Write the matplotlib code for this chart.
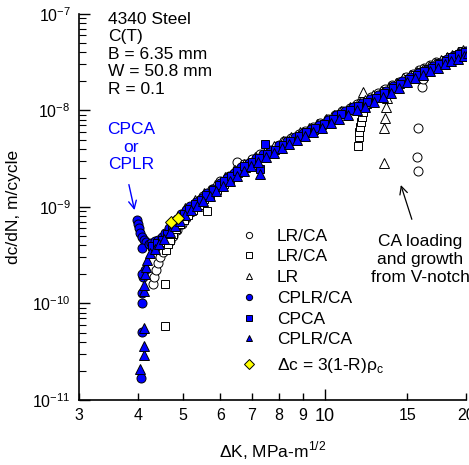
import matplotlib
matplotlib.use("Agg")
import matplotlib.pyplot as plt
from matplotlib.lines import Line2D
from matplotlib.ticker import FixedLocator, LogLocator, NullFormatter

plt.rcParams['font.family'] = ['Liberation Sans', 'DejaVu Sans']
plt.rcParams['axes.unicode_minus'] = False
plt.rcParams['mathtext.fontset'] = 'custom'
plt.rcParams['mathtext.rm'] = 'Liberation Sans'

# LR/CA (open circles)
lrca_c_dk = [4.31, 4.34, 4.37, 4.41, 4.46, 4.52, 4.60, 4.68, 4.76, 4.86, 4.96, 5.08, 5.20, 5.35,
             5.50, 5.75, 6.00, 6.25, 6.50, 6.50, 6.75, 7.00, 7.30, 7.60, 7.90, 8.20, 8.50, 8.80,
             9.10, 9.45, 9.80, 10.15, 10.50, 10.90, 11.30, 11.70, 12.10, 12.55, 13.00, 13.45,
             13.90, 14.40, 14.90, 15.40, 15.90, 16.30, 16.80, 17.30, 16.10, 16.20, 15.80, 15.70, 15.80]
lrca_c_rate = [1.6e-10, 1.9e-10, 2.2e-10, 2.6e-10, 3.0e-10, 3.4e-10, 3.9e-10, 4.4e-10, 5.0e-10,
               5.8e-10, 6.6e-10, 7.7e-10, 8.8e-10, 1.02e-9, 1.3e-9, 1.55e-9, 1.85e-9, 2.1e-9,
               2.45e-9, 2.9e-9, 2.8e-9, 3.15e-9, 3.5e-9, 3.85e-9, 4.3e-9, 4.8e-9, 5.25e-9, 5.75e-9,
               6.2e-9, 6.8e-9, 7.5e-9, 8.2e-9, 9.0e-9, 9.9e-9, 1.07e-8, 1.17e-8, 1.26e-8, 1.38e-8,
               1.52e-8, 1.66e-8, 1.82e-8, 1.99e-8, 2.2e-8, 2.4e-8, 2.6e-8, 2.75e-8, 2.95e-8, 3.15e-8,
               1.75e-8, 2.1e-8, 6.6e-9, 3.3e-9, 2.35e-9]

# LR/CA (open squares)
lrca_s_dk = [4.58, 4.58, 4.60, 4.63, 4.68, 4.75, 4.83, 4.92, 5.02, 5.12, 5.25, 5.40, 5.55, 5.63,
             5.70, 5.90, 6.10, 6.30, 6.55, 6.80, 7.05, 7.35, 7.65, 7.95, 8.25, 8.55, 8.85, 9.15,
             9.50, 9.85, 10.20, 10.55, 10.95, 11.35, 11.75, 11.77, 11.82, 11.86, 11.90, 11.95,
             12.00, 12.10, 12.20, 12.30, 12.60, 13.05, 13.50, 14.00, 14.50, 15.00, 15.50, 16.00,
             16.50, 17.00, 17.50, 18.00, 18.50, 19.00, 19.60]
lrca_s_rate = [5.9e-11, 1.6e-10, 3.6e-10, 4.1e-10, 4.6e-10, 5.2e-10, 5.9e-10, 6.6e-10, 7.4e-10,
               8.2e-10, 9.2e-10, 1.05e-9, 1.2e-9, 9.1e-10, 1.33e-9, 1.5e-9, 1.75e-9, 1.95e-9,
               2.25e-9, 2.55e-9, 2.85e-9, 3.2e-9, 3.55e-9, 3.95e-9, 4.4e-9, 4.85e-9, 5.35e-9,
               5.8e-9, 6.35e-9, 7.0e-9, 7.7e-9, 8.4e-9, 9.2e-9, 1.0e-8, 1.09e-8, 4.3e-9, 5.3e-9,
               6.0e-9, 6.7e-9, 7.6e-9, 8.6e-9, 9.6e-9, 1.09e-8, 1.18e-8, 1.3e-8, 1.43e-8, 1.58e-8,
               1.75e-8, 1.93e-8, 2.12e-8, 2.32e-8, 2.5e-8, 2.7e-8, 2.9e-8, 3.1e-8, 3.35e-8, 3.6e-8,
               3.8e-8, 4.1e-8]

# LR (open triangles)
lr_t_dk = [5.05, 5.30, 5.55, 5.85, 6.15, 6.45, 6.75, 7.10, 7.45, 7.80, 8.15, 8.50, 8.85, 9.25,
           9.65, 10.05, 10.45, 10.85, 11.30, 11.75, 12.10, 12.20, 12.70, 13.20, 13.70, 14.20,
           14.70, 15.20, 15.70, 16.20, 16.70, 17.20, 17.70, 18.20, 18.70, 19.20, 19.70,
           13.37, 13.40, 13.46, 13.50, 13.57]
lr_t_rate = [9.7e-10, 1.18e-9, 1.4e-9, 1.68e-9, 2.03e-9, 2.4e-9, 2.82e-9, 3.28e-9, 3.73e-9,
             4.25e-9, 4.8e-9, 5.35e-9, 5.95e-9, 6.55e-9, 7.3e-9, 8.1e-9, 9.0e-9, 9.9e-9, 1.09e-8,
             1.19e-8, 1.55e-8, 1.29e-8, 1.44e-8, 1.59e-8, 1.75e-8, 1.94e-8, 2.15e-8, 2.36e-8,
             2.53e-8, 2.71e-8, 2.9e-8, 3.1e-8, 3.33e-8, 3.57e-8, 3.8e-8, 4.0e-8, 4.25e-8,
             2.86e-9, 6.6e-9, 8.4e-9, 1.09e-8, 1.35e-8]

# CPLR/CA (blue circles)
cplr_c_dk = [3.98, 4.00, 4.02, 4.05, 4.09, 4.13, 4.17, 4.09, 4.14, 4.10, 4.08, 4.09, 4.08, 4.08,
             4.07, 4.22, 4.28, 4.35, 4.42, 4.50, 4.58, 4.66, 4.75, 4.85, 4.95, 5.06, 5.18, 5.32,
             5.47, 5.63, 5.80, 6.00, 6.20, 6.42, 6.65, 6.90, 7.15, 7.40, 7.70, 8.00, 8.30, 8.65,
             9.00, 9.35, 9.75, 10.15, 10.60, 11.05, 11.50, 12.00, 12.50, 13.00, 13.50, 14.00,
             14.60, 15.20, 15.80, 16.40, 17.00, 17.60, 18.20, 18.80, 19.40, 20.00]
cplr_c_rate = [7.3e-10, 6.6e-10, 6.0e-10, 5.4e-10, 4.9e-10, 4.55e-10, 4.3e-10, 3.75e-10, 2.2e-10,
               1.9e-10, 2.0e-10, 1.3e-10, 1.0e-10, 5.1e-11, 1.7e-11, 4.1e-10, 4.2e-10, 4.4e-10,
               4.6e-10, 4.9e-10, 5.4e-10, 6.0e-10, 6.7e-10, 7.5e-10, 8.4e-10, 9.3e-10, 1.02e-9,
               1.13e-9, 1.25e-9, 1.4e-9, 1.55e-9, 1.78e-9, 2.0e-9, 2.27e-9, 2.57e-9, 2.88e-9,
               3.2e-9, 3.5e-9, 3.92e-9, 4.37e-9, 4.79e-9, 5.33e-9, 5.9e-9, 6.43e-9, 7.1e-9, 7.9e-9,
               8.9e-9, 9.87e-9, 1.08e-8, 1.19e-8, 1.31e-8, 1.45e-8, 1.6e-8, 1.78e-8, 2.0e-8,
               2.25e-8, 2.44e-8, 2.65e-8, 2.88e-8, 3.13e-8, 3.4e-8, 3.65e-8, 3.93e-8, 4.17e-8]

# CPCA (blue squares)
cpca_s_dk = [4.30, 4.40, 4.50, 4.62, 4.74, 4.88, 5.02, 5.15, 5.30, 5.45, 5.60, 5.78, 5.95, 6.12,
             6.32, 6.52, 6.75, 7.00, 7.25, 7.30, 7.45, 7.55, 7.85, 8.15, 8.45, 8.80, 9.15, 9.55,
             9.95, 10.40, 10.85, 11.30, 11.80, 12.30, 12.85, 13.40, 13.95, 14.50, 15.10, 15.70,
             16.30, 16.90, 17.50, 18.10, 18.70, 19.30, 19.90]
cpca_s_rate = [3.9e-10, 4.2e-10, 4.6e-10, 5.3e-10, 6.2e-10, 7.2e-10, 8.4e-10, 9.5e-10, 1.07e-9,
               1.19e-9, 1.32e-9, 1.5e-9, 1.7e-9, 1.88e-9, 2.1e-9, 2.35e-9, 2.65e-9, 2.95e-9,
               3.2e-9, 2.5e-9, 4.5e-9, 3.5e-9, 3.9e-9, 4.4e-9, 4.85e-9, 5.4e-9, 6.0e-9, 6.6e-9,
               7.3e-9, 8.2e-9, 9.1e-9, 1.0e-8, 1.11e-8, 1.22e-8, 1.36e-8, 1.52e-8, 1.7e-8, 1.9e-8,
               2.12e-8, 2.33e-8, 2.55e-8, 2.78e-8, 3.02e-8, 3.28e-8, 3.55e-8, 3.82e-8, 4.08e-8]

# CPLR/CA (blue triangles)
cplr_t_dk = [4.04, 4.12, 4.12, 4.13, 4.12, 4.12, 4.15, 4.17, 4.19, 4.25, 4.35, 4.45, 4.56, 4.68,
             4.80, 4.93, 5.05, 5.20, 5.36, 5.52, 5.70, 5.88, 6.08, 6.28, 6.50, 6.72, 6.96, 7.20,
             7.27, 7.50, 7.80, 8.10, 8.40, 8.75, 9.10, 9.45, 9.85, 10.30, 10.75, 11.20, 11.70,
             12.20, 12.75, 13.30, 13.85, 14.40, 15.00, 15.60, 16.20, 16.80, 17.40, 18.00, 18.60,
             19.20, 19.80, 20.20]
cplr_t_rate = [2.1e-11, 2.9e-11, 3.6e-11, 5.6e-11, 1.35e-10, 1.55e-10, 2.0e-10, 2.4e-10, 2.8e-10,
               3.3e-10, 3.7e-10, 4.1e-10, 4.7e-10, 5.5e-10, 6.3e-10, 7.2e-10, 8.2e-10, 9.2e-10,
               1.03e-9, 1.15e-9, 1.3e-9, 1.47e-9, 1.66e-9, 1.86e-9, 2.1e-9, 2.38e-9, 2.65e-9,
               2.92e-9, 2.2e-9, 3.27e-9, 3.65e-9, 4.05e-9, 4.45e-9, 4.95e-9, 5.45e-9, 5.95e-9,
               6.6e-9, 7.35e-9, 8.15e-9, 9.0e-9, 1.0e-8, 1.1e-8, 1.23e-8, 1.37e-8, 1.53e-8, 1.72e-8,
               1.97e-8, 2.15e-8, 2.33e-8, 2.55e-8, 2.78e-8, 3.0e-8, 3.25e-8, 3.45e-8, 3.7e-8, 3.95e-8]

# delta c = 3(1-R) rho_c points
dc_dk = [4.72, 4.87]
dc_rate = [7.0e-10, 7.7e-10]

x_ticks = [3, 4, 5, 6, 7, 8, 9, 10, 15, 20]
x_labels = ["3", "4", "5", "6", "7", "8", "9", "10", "15", "20"]

blue = "#0000ff"
fs = 12.5

fig = plt.figure(figsize=(4.69, 4.65), dpi=100)
ax = fig.add_axes([79 / 469, 65 / 465, 387 / 469, 386 / 465])

mk = dict(ls="none", mec="black", mew=0.7)
ax.plot(lrca_c_dk, lrca_c_rate, marker="o", ms=6.5, mfc="white", **mk)
ax.plot(lrca_s_dk, lrca_s_rate, marker="s", ms=5.6, mfc="white", **mk)
ax.plot(lr_t_dk, lr_t_rate, marker="^", ms=6.5, mfc="white", **mk)
ax.plot(cplr_c_dk, cplr_c_rate, marker="o", ms=6.5, mfc=blue, **mk)
ax.plot(cpca_s_dk, cpca_s_rate, marker="s", ms=5.6, mfc=blue, **mk)
ax.plot(cplr_t_dk, cplr_t_rate, marker="^", ms=6.5, mfc=blue, **mk)
ax.plot(dc_dk, dc_rate, marker="D", ms=5.8, mfc="#ffff00", **mk)

ax.set_xscale("log")
ax.set_yscale("log")
ax.set_xlim(3, 20)
ax.set_ylim(1e-11, 1e-7)

# axes: only left and bottom, ticks inside
ax.spines["top"].set_visible(False)
ax.spines["right"].set_visible(False)
ax.spines["left"].set_linewidth(1.2)
ax.spines["bottom"].set_linewidth(1.2)

ax.xaxis.set_major_locator(FixedLocator(x_ticks))
ax.xaxis.set_minor_locator(FixedLocator([]))
ax.set_xticklabels(x_labels, fontsize=11.5)
ax.xaxis.set_minor_formatter(NullFormatter())
ax.tick_params(axis="x", which="major", direction="in", length=5, width=1, pad=6)
ten = ax.xaxis.get_major_ticks()[7]
ten.tick1line.set_markersize(8)
ten.label1.set_fontsize(13)

ax.yaxis.set_major_locator(LogLocator(base=10, numticks=10))
ax.yaxis.set_minor_locator(LogLocator(base=10, subs=range(2, 10), numticks=10))
ax.yaxis.set_minor_formatter(NullFormatter())
ax.tick_params(axis="y", which="major", direction="in", length=8, width=1, pad=6, labelsize=11.5)
ax.tick_params(axis="y", which="minor", direction="in", length=5, width=0.8)

ax.set_xlabel("ΔK, MPa-m$^{\\mathregular{1/2}}$", fontsize=fs, labelpad=10)
ax.set_ylabel("dc/dN, m/cycle", fontsize=fs, labelpad=8)

# specimen info
ax.text(0.075, 1.005, "4340 Steel\nC(T)\nB = 6.35 mm\nW = 50.8 mm\nR = 0.1",
        transform=ax.transAxes, ha="left", va="top", fontsize=fs, linespacing=1.2)

# annotations
ax.text(0.134, 0.72, "CPCA\nor\nCPLR", transform=ax.transAxes, ha="center", va="top",
        fontsize=fs, color=blue, linespacing=1.22)
ax.annotate("", xy=(3.95, 8.7e-10), xytext=(3.82, 1.82e-9),
            arrowprops=dict(arrowstyle="->", color=blue, lw=1, mutation_scale=14))
ax.text(0.881, 0.43, "CA loading\nand growth\nfrom V-notch", transform=ax.transAxes,
        ha="center", va="top", fontsize=fs, linespacing=1.25)
ax.annotate("", xy=(14.47, 1.8e-9), xytext=(15.4, 7.0e-10),
            arrowprops=dict(arrowstyle="->", color="black", lw=0.9, mutation_scale=14))

# legend (last entry kept apart, it sits a bit lower)
lg = dict(ls="none", mec="black", mew=0.7)
handles = [
    Line2D([], [], marker="o", ms=4.5, mfc="white", **lg),
    Line2D([], [], marker="s", ms=4, mfc="white", **lg),
    Line2D([], [], marker="^", ms=4.5, mfc="white", **lg),
    Line2D([], [], marker="o", ms=4.5, mfc=blue, **lg),
    Line2D([], [], marker="s", ms=4, mfc=blue, **lg),
    Line2D([], [], marker="^", ms=4.5, mfc=blue, **lg),
]
labels = ["LR/CA", "LR/CA", "LR", "CPLR/CA", "CPCA", "CPLR/CA"]
leg_opts = dict(loc="upper left", frameon=False, fontsize=fs, handlelength=1.0,
                handletextpad=1.13, labelspacing=0.32, borderpad=0, borderaxespad=0)
leg1 = ax.legend(handles, labels, bbox_to_anchor=(0.416, 0.444), **leg_opts)
ax.add_artist(leg1)
ax.legend([Line2D([], [], marker="D", ms=5, mfc="#ffff00", **lg)],
          ["Δc = 3(1-R)ρ$_\\mathregular{c}$"], bbox_to_anchor=(0.416, 0.115), **leg_opts)

fig.savefig("out.png", dpi=100)
